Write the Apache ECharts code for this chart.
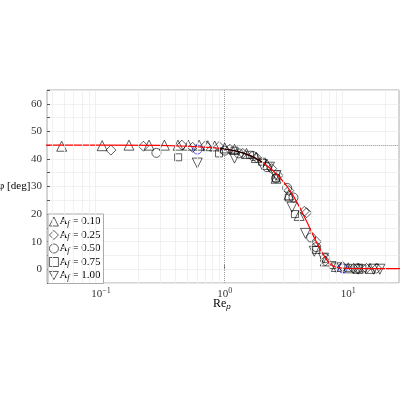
<!DOCTYPE html><html><head><meta charset="utf-8">
<script src="https://cdn.jsdelivr.net/npm/echarts@6/dist/echarts.min.js"></script>
<style>html,body{margin:0;padding:0;background:#fff}#c{width:400px;height:400px}</style></head><body><div id="c"></div>
<script>
const xTicks=[0.1,1,10];
const xTickLabels=['10{s|−1}','10{s|0}','10{s|1}'];
const yTicks=[0,10,20,30,40,50,60];
const curveX=[0.03,0.1,0.3,0.5,0.8,1,1.3,1.6,2,2.4,2.8,3.2,3.6,4,4.3,4.7,5.1,5.5,6,6.5,7,7.5,8,9,10,15,30];
const curveY=[45,45,44.9,44.6,44.1,43.6,42.6,41.3,39,36.2,33.2,30,26.5,22.8,20,16.5,13,10,6.8,4.2,2.2,1.2,0.7,0.4,0.3,0.2,0.2];
const blackX=[0.9,1.0,1.2,1.4,1.6,1.8,2.0];
const blackY=[44.0,43.6,43.0,42.2,41.2,40.1,38.9];
const a010X=[0.048,0.102,0.168,0.244,0.325,0.419,0.507,0.62,0.73,0.83,1.0,1.2,1.5,1.8,2.2,2.6,3.3,4.0,6.5,8,10,12,15];
const a010Y=[44.6,44.8,45,45,45,45,45,45,44.8,44.7,44,43.5,42,40.5,38,33,27,19.5,3,1,0.5,0.3,0.3];
const a025X=[0.12,0.22,0.45,0.55,0.7,0.9,1.1,1.4,1.8,2.4,2.7,3.3,4.4,4.6,5.5,6.5,9,11,14,17];
const a025Y=[43.2,44.6,45,44.2,44.8,44.5,43.5,42,40.5,36.5,34,28.5,21,20.5,10,3,1,0.3,0.3,0.3];
const a050X=[0.28,0.6,1.0,1.3,1.7,2.2,2.6,3.2,3.6,5,5.5,6.5,9,12];
const a050Y=[42.2,43.4,43,42,41,37,33,29.5,26,11.5,8,4,0.3,0.3];
const a075X=[0.42,0.9,1.2,1.6,2.0,2.6,3.3,3.7,5.5,7.5,10,13];
const a075Y=[40.6,42,43,41.5,39,33,26,20,7,1.5,0.5,0.3];
const a100X=[0.6,1.2,2.0,2.3,2.6,3.5,4.5,5.3,6.3,8,12,16,18];
const a100Y=[38.5,40.3,38,37,34,22.5,13,6.5,4,0.5,0,0,0];
const blueX=[0.6,9];
const names=['A{f|f} = 0.10','A{f|f} = 0.25','A{f|f} = 0.50','A{f|f} = 0.75','A{f|f} = 1.00'];
const minorX=[0.04,0.05,0.06,0.07,0.08,0.09,0.2,0.3,0.4,0.5,0.6,0.7,0.8,0.9,2,3,4,5,6,7,8,9,20];
const zip=(a,b)=>a.map((v,i)=>[v,b[i]]);
const F='Liberation Serif';
const inv='path://M0,0 L10,0 L5,9 Z';
const syms=['triangle','diamond','circle','rect',inv];
const sizes=[10,10,9,7,10];
const datas=[zip(a010X,a010Y),zip(a025X,a025Y),zip(a050X,a050Y),zip(a075X,a075Y),zip(a100X,a100Y)];
const scat=datas.map((d,i)=>({type:'scatter',name:names[i],symbol:syms[i],symbolSize:sizes[i],z:3,
 data:d.map(p=>(i===2&&blueX.includes(p[0]))?{value:p,itemStyle:{borderColor:'#0000ff'}}:p),
 itemStyle:{color:'rgba(0,0,0,0)',borderColor:'#000',borderWidth:0.8}}));
const ch=echarts.init(document.getElementById('c'),null,{renderer:'canvas'});
ch.setOption({animation:false,
 grid:{left:47,right:1,top:90,bottom:117,show:true,borderColor:'#aaa',borderWidth:1},
 xAxis:{type:'log',logBase:10,min:0.0365,max:25.7,
  axisLine:{show:false},
  axisTick:{inside:true,customValues:xTicks,length:4,lineStyle:{color:'#555'}},
  axisLabel:{customValues:xTicks,formatter:v=>xTickLabels[xTicks.findIndex(t=>Math.abs(t-v)/t<1e-6)],fontFamily:F,fontSize:11,color:'#333',margin:4,rich:{s:{fontSize:8,verticalAlign:'top',padding:[0,0,6,0],fontFamily:F}}},
  splitLine:{show:false}},
 yAxis:{type:'value',min:-5,max:65,interval:5,
  axisLine:{show:false},
  axisTick:{inside:true,length:3,lineStyle:{color:'#555'}},
  axisLabel:{formatter:v=>yTicks.includes(v)?String(v):'',fontFamily:F,fontSize:11,color:'#333',margin:5},
  splitLine:{lineStyle:{color:'#eee',width:0.8}}},
 legend:{orient:'vertical',left:48,top:214,itemGap:2,itemWidth:9,itemHeight:9,padding:[2,3,2,1],
  borderColor:'#aaa',borderWidth:1,backgroundColor:'#fff',
  textStyle:{fontFamily:F,fontSize:11,color:'#000',padding:[0,0,0,-4],rich:{f:{fontSize:8,fontStyle:'italic',verticalAlign:'bottom',padding:[4,0,0,0],fontFamily:F}}},
  itemStyle:{color:'rgba(0,0,0,0)',borderColor:'#000',borderWidth:0.8},
  data:names},
 series:[
  {type:'line',silent:true,data:[],markLine:{symbol:'none',silent:true,label:{show:false},lineStyle:{color:'#eee',type:'solid',width:0.8},data:minorX.map(x=>({xAxis:x}))}},
  {type:'line',silent:true,data:[],markLine:{symbol:'none',silent:true,label:{show:false},lineStyle:{color:'#999',type:'dotted',width:1},data:[{xAxis:1},[{coord:[1,45]},{coord:[25.7,45]}]]}},
  {type:'line',data:zip(curveX,curveY),showSymbol:false,lineStyle:{color:'#ff0000',width:1.2},z:4},
  {type:'line',data:zip(blackX,blackY),showSymbol:false,lineStyle:{color:'#000',width:1.2},z:4},
  ...scat],
 graphic:[
  {type:'text',left:-2,top:181,style:{text:'φ [deg]',font:'11px "Liberation Serif"',fill:'#000'}},
  {type:'text',left:213,top:298,style:{text:'Re{s|p}',font:'12px "Liberation Serif"',fill:'#000',rich:{s:{fontSize:8,fontStyle:'italic',verticalAlign:'bottom',padding:[5,0,0,0]}}}}]
});
</script></body></html>
